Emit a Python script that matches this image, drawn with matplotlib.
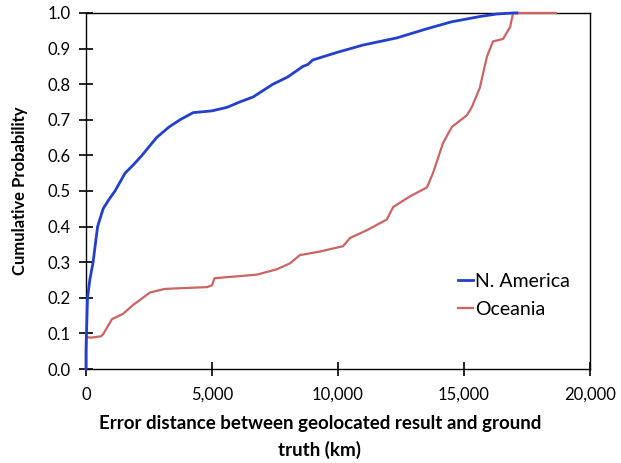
import matplotlib
matplotlib.use('Agg')
import matplotlib.pyplot as plt
from matplotlib.ticker import FuncFormatter

# values (km, cumulative probability)
na_dist = [0, 0, 20, 60, 150, 280, 460, 680, 900, 1150, 1550, 1900, 2220, 2800,
           3300, 3730, 4250, 5000, 5600, 6100, 6630, 7420, 8000, 8610, 8800,
           9000, 10000, 11000, 12340, 13500, 14500, 15630, 16300, 16950, 17100]
na_prob = [0.0, 0.05, 0.1, 0.2, 0.25, 0.3, 0.4, 0.45, 0.475, 0.5, 0.55, 0.575,
           0.6, 0.65, 0.68, 0.7, 0.72, 0.725, 0.735, 0.75, 0.764, 0.8, 0.82,
           0.85, 0.855, 0.868, 0.89, 0.91, 0.93, 0.955, 0.975, 0.99, 0.997,
           1.0, 1.0]

oc_dist = [0, 0, 200, 600, 700, 1030, 1470, 1870, 2200, 2540, 3130, 4800, 5000,
           5100, 6780, 7570, 8100, 8490, 9290, 10200, 10480, 11150, 11940,
           12190, 12860, 13530, 13770, 14170, 14520, 15120, 15320, 15630,
           15910, 16150, 16550, 16830, 16950, 18650]
oc_prob = [0.0, 0.09, 0.088, 0.092, 0.1, 0.14, 0.155, 0.18, 0.197, 0.215, 0.225,
           0.23, 0.235, 0.255, 0.265, 0.28, 0.297, 0.32, 0.33, 0.345, 0.368,
           0.39, 0.42, 0.455, 0.485, 0.51, 0.55, 0.635, 0.68, 0.713, 0.737,
           0.79, 0.877, 0.92, 0.927, 0.96, 1.0, 1.0]

x_ticks = [0, 5000, 10000, 15000, 20000]
y_ticks = [0.0, 0.1, 0.2, 0.3, 0.4, 0.5, 0.6, 0.7, 0.8, 0.9, 1.0]

plt.rcParams['font.family'] = ['Lato', 'DejaVu Sans']

fig = plt.figure(figsize=(6.21, 4.63), dpi=100)
ax = fig.add_axes([0.1385, 0.203, 0.8115, 0.769])

ax.plot(oc_dist, oc_prob, color='#cc6462', lw=1.6, label='Oceania',
        zorder=3, clip_on=False)
ax.plot(na_dist, na_prob, color='#2340cc', lw=2.0, label='N. America',
        zorder=4, clip_on=False)

ax.set_xlim(0, 20000)
ax.set_ylim(0, 1.0)
ax.set_xticks(x_ticks)
ax.set_yticks(y_ticks)
ax.xaxis.set_major_formatter(FuncFormatter(lambda v, p: f'{int(v):,}'))
ax.yaxis.set_major_formatter(FuncFormatter(lambda v, p: f'{v:.1f}'))
ax.tick_params(axis='both', direction='inout', length=10, width=1.2,
               labelsize=12, colors='black')
ax.tick_params(axis='y', pad=6)
ax.tick_params(axis='x', pad=8)
for s in ax.spines.values():
    s.set_linewidth(1.0)

ax.set_ylabel('Cumulative Probability', fontsize=12, fontweight='bold', labelpad=14)
fig.text(320 / 621, 1 - 437 / 463, 'Error distance between geolocated result and ground\ntruth (km)',
         ha='center', va='center', fontsize=13.5, fontweight='bold', linespacing=1.65)

handles, labels = ax.get_legend_handles_labels()
ax.legend(handles[::-1], labels[::-1], loc='lower right', bbox_to_anchor=(0.995, 0.095),
          frameon=False, fontsize=14, handlelength=0.8, handletextpad=0.1,
          labelspacing=0.55)

plt.savefig('out.png', dpi=100)
